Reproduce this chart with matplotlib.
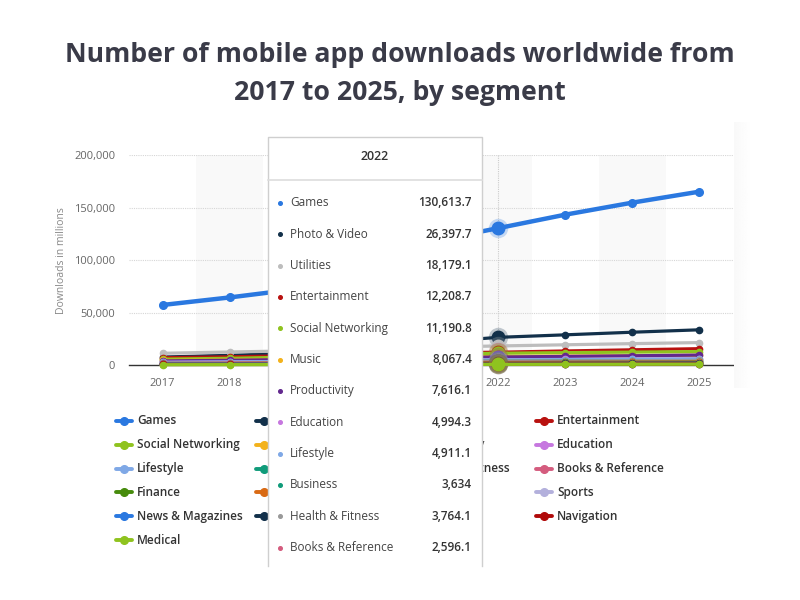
import numpy as np
import matplotlib.pyplot as plt
from matplotlib.patches import Rectangle
from matplotlib.ticker import FuncFormatter

plt.rcParams['font.family'] = ['Open Sans', 'DejaVu Sans']

years = [2017, 2018, 2019, 2020, 2021, 2022, 2023, 2024, 2025]

segments = ["Games", "Photo & Video", "Utilities", "Entertainment",
            "Social Networking", "Music", "Productivity", "Education",
            "Lifestyle", "Business", "Health & Fitness", "Books & Reference",
            "Finance", "Shopping", "Travel", "Sports",
            "News & Magazines", "Food & Drink", "Weather", "Navigation",
            "Medical"]

colors = ["#2a78e0", "#12304a", "#bdbdbd", "#b8110f",
          "#8fc31f", "#f3b21b", "#62288e", "#c677df",
          "#7fa8e6", "#109b7a", "#999999", "#d45c7e",
          "#468b0c", "#d96a14", "#a4a1d6", "#b3b0dc",
          "#2a78e0", "#12304a", "#8c8c8c", "#b00a0a",
          "#8fc31f"]

# downloads in millions, 2017-2025
games = [57300, 64500, 72500, 97000, 118000, 130613.7, 143500, 155000, 165500]
photo_video = [7600, 9200, 11500, 16500, 21500, 26397.7, 28800, 31300, 33600]
utilities = [11200, 12400, 13600, 15600, 17000, 18179.1, 19300, 20400, 21400]
entertainment = [7000, 7800, 9000, 10600, 11600, 12208.7, 13400, 14500, 15600]
social = [5600, 6400, 7600, 9500, 10500, 11190.8, 11800, 12300, 12800]
music = [4300, 4900, 5700, 7000, 7600, 8067.4, 8500, 8900, 9300]
productivity = [3900, 4500, 5300, 6700, 7200, 7616.1, 8200, 8800, 9500]
education = [2600, 3000, 3500, 4600, 4800, 4994.3, 5300, 5600, 5900]
lifestyle = [2500, 2900, 3400, 4300, 4700, 4911.1, 5200, 5500, 5800]
business = [1500, 1700, 2000, 3300, 3500, 3634, 3850, 4050, 4250]
health = [1800, 2100, 2500, 3500, 3600, 3764.1, 3950, 4150, 4350]
books = [1600, 1800, 2000, 2400, 2500, 2596.1, 2700, 2800, 2900]
finance = [1100, 1300, 1600, 2000, 2200, 2350, 2500, 2650, 2800]
shopping = [1200, 1400, 1700, 2000, 2150, 2250, 2350, 2450, 2550]
travel = [700, 850, 1000, 700, 900, 1100, 1250, 1400, 1500]
sports = [900, 1000, 1100, 1300, 1400, 1450, 1500, 1550, 1600]
news = [800, 900, 1000, 1150, 1200, 1250, 1300, 1350, 1400]
food = [800, 850, 900, 1400, 1500, 1600, 1700, 1800, 1900]
weather = [600, 650, 700, 750, 800, 850, 900, 950, 1000]
navigation = [500, 550, 600, 550, 650, 700, 750, 800, 850]
medical = [300, 350, 400, 500, 550, 600, 650, 700, 750]

series = [games, photo_video, utilities, entertainment, social, music,
          productivity, education, lifestyle, business, health, books,
          finance, shopping, travel, sports, news, food, weather,
          navigation, medical]

hover_year = 2022
tooltip_rows = 12

fig = plt.figure(figsize=(8, 6), dpi=100)
ax = fig.add_axes([129 / 800, 1 - 365 / 600, 604 / 800, 209.5 / 600])
ax.set_xlim(years[0] - 0.5, years[-1] + 0.5)
ax.set_ylim(0, 200000)

for yr in years:
    if yr % 2 == 0:
        ax.axvspan(yr - 0.5, yr + 0.5, color="#f9f9f9", zorder=0, lw=0)

ax.yaxis.grid(True, linestyle=(0, (1, 1)), color="#d6d6d6", lw=0.8)
ax.set_axisbelow(True)
ax.axvline(hover_year, color="#cccccc", linestyle=(0, (1, 1)), lw=0.8, zorder=1)

hi = years.index(hover_year)
for name, vals, c in zip(segments, series, colors):
    big = name == "Games"
    ax.plot(years, vals, color=c, lw=3.2 if big else 2.3, marker="o",
            ms=5.5 if big else 4.5, zorder=3, clip_on=False,
            solid_capstyle="round")
    ax.plot(hover_year, vals[hi], "o", color=c, ms=14, alpha=0.25,
            mec="none", zorder=3, clip_on=False)
    ax.plot(hover_year, vals[hi], "o", color=c, ms=9, zorder=3, clip_on=False)

for s in ["top", "right", "left"]:
    ax.spines[s].set_visible(False)
ax.spines["bottom"].set_color("#333333")
ax.spines["bottom"].set_linewidth(1.0)
ax.set_xticks(years)
ax.set_yticks([0, 50000, 100000, 150000, 200000])
ax.yaxis.set_major_formatter(FuncFormatter(lambda v, p: f"{v:,.0f}"))
ax.tick_params(axis="both", length=0, labelsize=8, colors="#666666")
ax.tick_params(axis="y", pad=10)
ax.tick_params(axis="x", pad=9)
ax.set_ylabel("Downloads in millions", fontsize=7.5, color="#888888")
ax.yaxis.set_label_coords(-0.103, 0.5)

# overlay in pixel coordinates for title, legend and tooltip
ov = fig.add_axes([0, 0, 1, 1])
ov.axis("off")
ov.patch.set_alpha(0)

# faint edge shading of the chart panel on the right
grad = np.linspace(0.975, 1.0, 32).reshape(1, -1)
ov.imshow(np.repeat(grad, 2, axis=0), cmap="gray", vmin=0, vmax=1,
          extent=(734, 752, 388, 122), aspect="auto", zorder=0)
ov.set_xlim(0, 800)
ov.set_ylim(600, 0)

ov.text(400, 55, "Number of mobile app downloads worldwide from",
        ha="center", va="center", fontsize=19.2, weight="bold", color="#3a3b48")
ov.text(400, 93, "2017 to 2025, by segment",
        ha="center", va="center", fontsize=19.2, weight="bold", color="#3a3b48")

tx0, tx1, ty0, ty1 = 268, 482, 137, 566
outside = Rectangle((tx1, 380), 300, 200, transform=ov.transData)

for i, (name, c) in enumerate(zip(segments, colors)):
    row, col = divmod(i, 4)
    x0 = 116 + col * 140
    y = 421 + row * 23.8
    ov.plot([x0, x0 + 16], [y, y], color=c, lw=2.8, solid_capstyle="round")
    ov.plot(x0 + 8, y, "o", color=c, ms=5.5)
    if col == 1:
        continue  # label sits fully under the tooltip
    t = ov.text(x0 + 21, y, name, va="center", fontsize=8.5, color="#333333",
                weight="semibold")
    if col == 2:
        t.set_clip_path(outside)

# tooltip
ov.add_patch(Rectangle((tx0, ty0), tx1 - tx0, ty1 - ty0, facecolor="white",
                       edgecolor="none", zorder=10))
ov.plot([tx0, tx0, tx1, tx1], [ty1, ty0, ty0, ty1], color="#cfcfcf", lw=1,
        zorder=11)
ov.plot([tx0, tx1], [180, 180], color="#dddddd", lw=1.2, zorder=11)
ov.text((tx0 + tx1) / 2, 157, str(hover_year), ha="center", va="center",
        fontsize=9, weight="semibold", color="#333333", zorder=12)


def fmt(v):
    return f"{v:,.0f}" if float(v).is_integer() else f"{v:,.1f}"


for k in range(tooltip_rows):
    y = 203 + k * 31.33
    ov.plot(280, y, "o", color=colors[k], ms=2.6, zorder=12)
    ov.text(290, y, segments[k], va="center", fontsize=8.5, color="#444444",
            zorder=12)
    ov.text(472, y, fmt(series[k][hi]), va="center", ha="right", fontsize=8.5,
            weight="semibold", color="#333333", zorder=12)

fig.savefig("out.png", dpi=100)
